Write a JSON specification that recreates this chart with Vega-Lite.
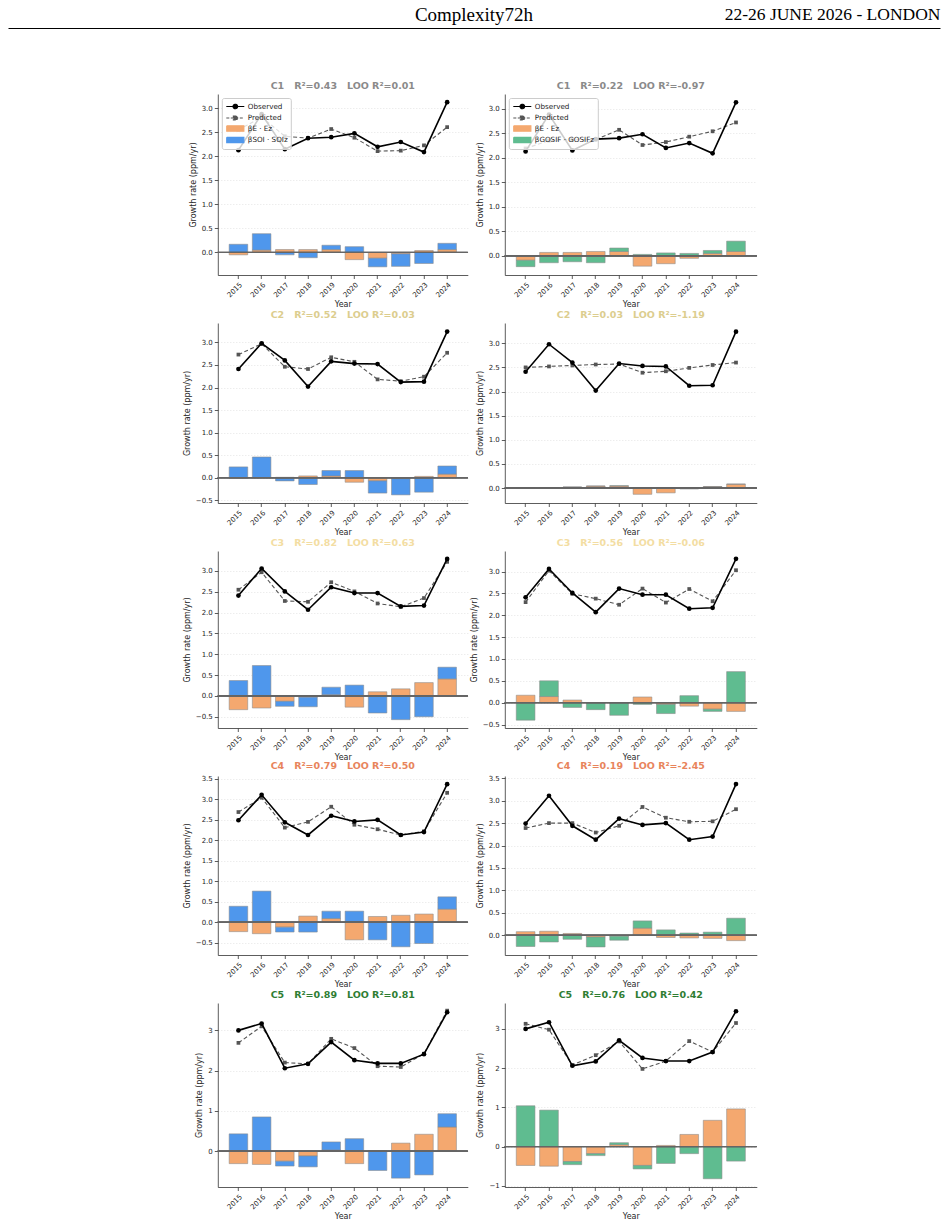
{
"$schema": "https://vega.github.io/schema/vega-lite/v6.json",
"padding": {"left": 8, "right": 8, "top": 5, "bottom": 2},
"background": "white",
"config": {
  "font": "DejaVu Sans",
  "view": {"stroke": null},
  "axis": {"labelFont": "DejaVu Sans", "labelFontSize": 7, "labelColor": "#262626", "titleFont": "DejaVu Sans", "titleFontSize": 8, "titleFontWeight": "normal", "titleColor": "#262626", "domainColor": "#333333", "domainWidth": 0.8, "tickColor": "#333333", "tickWidth": 0.8, "tickSize": 3.5, "labelPadding": 2, "labelOverlap": false},
  "axisX": {"grid": false, "labelAngle": -45, "titlePadding": 2},
  "axisY": {"grid": true, "gridColor": "#d4d4d4", "gridDash": [1, 2], "gridWidth": 0.6, "titlePadding": 4},
  "title": {"font": "DejaVu Sans", "fontSize": 9.5, "fontWeight": "bold", "offset": 4, "anchor": "middle", "frame": "group"}
},
"datasets": {
"d": [
{"p":"1L","year":"2015","obs":2.13,"pred":2.55,"E":-0.05,"X":0.17},
{"p":"1L","year":"2016","obs":2.88,"pred":2.82,"E":0.05,"X":0.34},
{"p":"1L","year":"2017","obs":2.15,"pred":2.42,"E":0.06,"X":-0.05},
{"p":"1L","year":"2018","obs":2.38,"pred":2.38,"E":0.06,"X":-0.11},
{"p":"1L","year":"2019","obs":2.40,"pred":2.57,"E":0.06,"X":0.09},
{"p":"1L","year":"2020","obs":2.48,"pred":2.39,"E":-0.15,"X":0.12},
{"p":"1L","year":"2021","obs":2.20,"pred":2.11,"E":-0.12,"X":-0.18},
{"p":"1L","year":"2022","obs":2.30,"pred":2.12,"E":-0.03,"X":-0.26},
{"p":"1L","year":"2023","obs":2.09,"pred":2.23,"E":0.04,"X":-0.23},
{"p":"1L","year":"2024","obs":3.13,"pred":2.61,"E":0.06,"X":0.13},
{"p":"1R","year":"2015","obs":2.13,"pred":2.19,"E":-0.09,"X":-0.13},
{"p":"1R","year":"2016","obs":2.88,"pred":2.35,"E":0.07,"X":-0.14},
{"p":"1R","year":"2017","obs":2.15,"pred":2.37,"E":0.07,"X":-0.12},
{"p":"1R","year":"2018","obs":2.38,"pred":2.37,"E":0.09,"X":-0.14},
{"p":"1R","year":"2019","obs":2.40,"pred":2.57,"E":0.09,"X":0.07},
{"p":"1R","year":"2020","obs":2.48,"pred":2.26,"E":-0.21,"X":0.03},
{"p":"1R","year":"2021","obs":2.20,"pred":2.32,"E":-0.16,"X":0.06},
{"p":"1R","year":"2022","obs":2.30,"pred":2.43,"E":-0.05,"X":0.05},
{"p":"1R","year":"2023","obs":2.09,"pred":2.54,"E":0.05,"X":0.06},
{"p":"1R","year":"2024","obs":3.13,"pred":2.72,"E":0.09,"X":0.21},
{"p":"2L","year":"2015","obs":2.41,"pred":2.73,"E":-0.01,"X":0.24},
{"p":"2L","year":"2016","obs":2.98,"pred":2.97,"E":0.00,"X":0.46},
{"p":"2L","year":"2017","obs":2.60,"pred":2.46,"E":0.01,"X":-0.07},
{"p":"2L","year":"2018","obs":2.02,"pred":2.41,"E":0.04,"X":-0.15},
{"p":"2L","year":"2019","obs":2.58,"pred":2.67,"E":0.04,"X":0.12},
{"p":"2L","year":"2020","obs":2.53,"pred":2.57,"E":-0.10,"X":0.16},
{"p":"2L","year":"2021","obs":2.52,"pred":2.18,"E":-0.07,"X":-0.27},
{"p":"2L","year":"2022","obs":2.12,"pred":2.14,"E":-0.02,"X":-0.36},
{"p":"2L","year":"2023","obs":2.13,"pred":2.24,"E":0.03,"X":-0.32},
{"p":"2L","year":"2024","obs":3.24,"pred":2.77,"E":0.08,"X":0.18},
{"p":"2R","year":"2015","obs":2.41,"pred":2.50,"E":-0.01,"X":0.00},
{"p":"2R","year":"2016","obs":2.98,"pred":2.52,"E":0.00,"X":0.00},
{"p":"2R","year":"2017","obs":2.60,"pred":2.54,"E":0.02,"X":0.00},
{"p":"2R","year":"2018","obs":2.02,"pred":2.56,"E":0.04,"X":0.00},
{"p":"2R","year":"2019","obs":2.58,"pred":2.57,"E":0.04,"X":0.01},
{"p":"2R","year":"2020","obs":2.53,"pred":2.39,"E":-0.13,"X":0.00},
{"p":"2R","year":"2021","obs":2.52,"pred":2.42,"E":-0.10,"X":0.00},
{"p":"2R","year":"2022","obs":2.12,"pred":2.49,"E":-0.02,"X":0.00},
{"p":"2R","year":"2023","obs":2.13,"pred":2.55,"E":0.03,"X":0.00},
{"p":"2R","year":"2024","obs":3.24,"pred":2.60,"E":0.08,"X":0.00},
{"p":"3L","year":"2015","obs":2.41,"pred":2.55,"E":-0.33,"X":0.37},
{"p":"3L","year":"2016","obs":3.06,"pred":2.97,"E":-0.29,"X":0.73},
{"p":"3L","year":"2017","obs":2.51,"pred":2.28,"E":-0.13,"X":-0.12},
{"p":"3L","year":"2018","obs":2.07,"pred":2.26,"E":-0.03,"X":-0.23},
{"p":"3L","year":"2019","obs":2.61,"pred":2.73,"E":0.03,"X":0.18},
{"p":"3L","year":"2020","obs":2.47,"pred":2.51,"E":-0.27,"X":0.26},
{"p":"3L","year":"2021","obs":2.47,"pred":2.22,"E":0.10,"X":-0.41},
{"p":"3L","year":"2022","obs":2.15,"pred":2.14,"E":0.17,"X":-0.57},
{"p":"3L","year":"2023","obs":2.17,"pred":2.35,"E":0.32,"X":-0.50},
{"p":"3L","year":"2024","obs":3.29,"pred":3.22,"E":0.41,"X":0.28},
{"p":"3R","year":"2015","obs":2.41,"pred":2.30,"E":0.17,"X":-0.40},
{"p":"3R","year":"2016","obs":3.06,"pred":3.02,"E":0.14,"X":0.36},
{"p":"3R","year":"2017","obs":2.51,"pred":2.49,"E":0.06,"X":-0.11},
{"p":"3R","year":"2018","obs":2.07,"pred":2.38,"E":-0.01,"X":-0.15},
{"p":"3R","year":"2019","obs":2.61,"pred":2.24,"E":-0.01,"X":-0.28},
{"p":"3R","year":"2020","obs":2.47,"pred":2.61,"E":0.13,"X":-0.04},
{"p":"3R","year":"2021","obs":2.47,"pred":2.29,"E":-0.04,"X":-0.21},
{"p":"3R","year":"2022","obs":2.15,"pred":2.60,"E":-0.08,"X":0.16},
{"p":"3R","year":"2023","obs":2.17,"pred":2.32,"E":-0.15,"X":-0.05},
{"p":"3R","year":"2024","obs":3.29,"pred":3.03,"E":-0.20,"X":0.71},
{"p":"4L","year":"2015","obs":2.49,"pred":2.69,"E":-0.23,"X":0.39},
{"p":"4L","year":"2016","obs":3.11,"pred":3.04,"E":-0.28,"X":0.76},
{"p":"4L","year":"2017","obs":2.44,"pred":2.31,"E":-0.12,"X":-0.12},
{"p":"4L","year":"2018","obs":2.13,"pred":2.45,"E":0.15,"X":-0.24},
{"p":"4L","year":"2019","obs":2.60,"pred":2.82,"E":0.09,"X":0.18},
{"p":"4L","year":"2020","obs":2.46,"pred":2.38,"E":-0.43,"X":0.27},
{"p":"4L","year":"2021","obs":2.50,"pred":2.27,"E":0.14,"X":-0.43},
{"p":"4L","year":"2022","obs":2.13,"pred":2.13,"E":0.17,"X":-0.60},
{"p":"4L","year":"2023","obs":2.20,"pred":2.22,"E":0.20,"X":-0.52},
{"p":"4L","year":"2024","obs":3.37,"pred":3.16,"E":0.32,"X":0.30},
{"p":"4R","year":"2015","obs":2.49,"pred":2.39,"E":0.08,"X":-0.25},
{"p":"4R","year":"2016","obs":3.11,"pred":2.50,"E":0.09,"X":-0.15},
{"p":"4R","year":"2017","obs":2.44,"pred":2.50,"E":0.04,"X":-0.09},
{"p":"4R","year":"2018","obs":2.13,"pred":2.29,"E":-0.04,"X":-0.22},
{"p":"4R","year":"2019","obs":2.60,"pred":2.44,"E":-0.02,"X":-0.09},
{"p":"4R","year":"2020","obs":2.46,"pred":2.86,"E":0.16,"X":0.16},
{"p":"4R","year":"2021","obs":2.50,"pred":2.62,"E":-0.05,"X":0.12},
{"p":"4R","year":"2022","obs":2.13,"pred":2.53,"E":-0.06,"X":0.05},
{"p":"4R","year":"2023","obs":2.20,"pred":2.54,"E":-0.07,"X":0.07},
{"p":"4R","year":"2024","obs":3.37,"pred":2.81,"E":-0.12,"X":0.38},
{"p":"5L","year":"2015","obs":3.00,"pred":2.69,"E":-0.31,"X":0.43},
{"p":"5L","year":"2016","obs":3.17,"pred":3.10,"E":-0.33,"X":0.85},
{"p":"5L","year":"2017","obs":2.06,"pred":2.20,"E":-0.25,"X":-0.12},
{"p":"5L","year":"2018","obs":2.17,"pred":2.17,"E":-0.12,"X":-0.27},
{"p":"5L","year":"2019","obs":2.71,"pred":2.79,"E":0.03,"X":0.20},
{"p":"5L","year":"2020","obs":2.26,"pred":2.56,"E":-0.31,"X":0.31},
{"p":"5L","year":"2021","obs":2.18,"pred":2.11,"E":0.01,"X":-0.48},
{"p":"5L","year":"2022","obs":2.18,"pred":2.09,"E":0.20,"X":-0.67},
{"p":"5L","year":"2023","obs":2.41,"pred":2.42,"E":0.42,"X":-0.59},
{"p":"5L","year":"2024","obs":3.45,"pred":3.49,"E":0.60,"X":0.33},
{"p":"5R","year":"2015","obs":3.00,"pred":3.13,"E":-0.48,"X":1.04},
{"p":"5R","year":"2016","obs":3.17,"pred":2.98,"E":-0.50,"X":0.93},
{"p":"5R","year":"2017","obs":2.06,"pred":2.08,"E":-0.38,"X":-0.08},
{"p":"5R","year":"2018","obs":2.17,"pred":2.33,"E":-0.18,"X":-0.05},
{"p":"5R","year":"2019","obs":2.71,"pred":2.68,"E":0.05,"X":0.05},
{"p":"5R","year":"2020","obs":2.26,"pred":1.98,"E":-0.48,"X":-0.09},
{"p":"5R","year":"2021","obs":2.18,"pred":2.18,"E":0.03,"X":-0.43},
{"p":"5R","year":"2022","obs":2.18,"pred":2.69,"E":0.31,"X":-0.18},
{"p":"5R","year":"2023","obs":2.41,"pred":2.41,"E":0.67,"X":-0.82},
{"p":"5R","year":"2024","obs":3.45,"pred":3.15,"E":0.96,"X":-0.37}
]
},
"vconcat": [
{
  "width": 932, "height": 1,
  "data": {"values": [{"h": 0.5}]},
  "mark": {"type": "point", "opacity": 0, "size": 0},
  "encoding": {
    "x": {"field": "h", "type": "quantitative", "scale": {"domain": [0, 1]}, "axis": {"orient": "top", "title": "22-26 JUNE 2026 - LONDON", "titleAnchor": "end", "titleFont": "Liberation Serif", "titleFontSize": 17.5, "titleFontWeight": "normal", "titleColor": "#000000", "titlePadding": 5, "labels": false, "ticks": false, "grid": false, "domainColor": "#000000", "domainWidth": 1.2}}
  },
  "title": {"text": "Complexity72h", "anchor": "middle", "font": "Liberation Serif", "fontSize": 19, "fontWeight": "normal", "color": "#000000", "dy": 20, "offset": 0}
},
{
 "bounds": "flush",
 "spacing": 0,
 "resolve": {"scale": {"fill": "independent", "stroke": "independent", "shape": "independent", "strokeDash": "independent"}},
 "hconcat": [
 {
  "width": 27, "height": 1,
  "data": {"values": [{"h": 0}]},
  "mark": {"type": "point", "opacity": 0, "size": 0}
 },
 {
  "data": {"name": "d"},
  "columns": 2,
  "bounds": "flush",
  "spacing": {"row": 48, "column": 37},
  "resolve": {"scale": {"fill": "independent", "stroke": "independent", "shape": "independent", "strokeDash": "independent"}},
  "concat": [
  {
    "width": 250, "height": 181,
    "title": {"text": "C1\u00a0\u00a0\u00a0R²=0.43\u00a0\u00a0\u00a0LOO R²=0.01", "color": "#8a8a8a"},
    "transform": [{"filter": "datum.p === '1L'"}],
    "layer": [
      {"transform": [{"fold": ["E", "X"], "as": ["s", "v"]}],
       "mark": {"type": "bar", "stroke": "#8a8a8a", "strokeWidth": 0.7, "strokeOpacity": 0.8, "opacity": 1},
       "encoding": {
         "x": {"field": "year", "type": "ordinal", "title": "Year", "scale": {"paddingInner": 0.2, "paddingOuter": 0.49}},
         "y": {"field": "v", "type": "quantitative", "stack": "zero", "title": "Growth rate (ppm/yr)", "scale": {"domain": [-0.47, 3.30], "nice": false, "zero": false}, "axis": {"values": [0, 0.5, 1, 1.5, 2, 2.5, 3], "tickCount": 30, "labelOverlap": false, "labelExpr": "replace(format(datum.value, '.1f'), '-', '−')"}},
         "fill": {"field": "s", "type": "nominal", "scale": {"domain": ["obs", "pred", "E", "X"], "range": ["#000000", "#555555", "#F4A86F", "#4F97EC"]},
           "legend": {"title": null, "orient": "top-left", "offset": 4, "padding": 3, "rowPadding": 0.5, "labelFontSize": 7.2, "labelFont": "DejaVu Sans", "labelColor": "#222222", "symbolSize": 81, "symbolStrokeWidth": 1.2, "symbolOffset": 5, "labelOffset": 7, "fillColor": "rgba(255,255,255,0.8)", "strokeColor": "#cccccc", "cornerRadius": 2, "labelExpr": "datum.value == 'obs' ? 'Observed' : datum.value == 'pred' ? 'Predicted' : datum.value == 'E' ? 'βE · Ez' : 'βSOI · SOIz'"}},
         "order": {"field": "s", "type": "ordinal", "sort": "ascending"}
       }},
      {"mark": {"type": "rule", "color": "#666666", "strokeWidth": 0.8}, "encoding": {"y": {"datum": 0}}},
      {"mark": {"type": "line", "color": "#555555", "strokeWidth": 1.1, "strokeDash": [4, 2.5]},
       "encoding": {"x": {"field": "year", "type": "ordinal", "title": "Year", "scale": {"paddingInner": 0.2, "paddingOuter": 0.49}}, "y": {"field": "pred", "type": "quantitative", "title": "Growth rate (ppm/yr)", "scale": {"domain": [-0.47, 3.30], "nice": false, "zero": false}}}},
      {"mark": {"type": "point", "shape": "square", "filled": true, "color": "#555555", "size": 14, "opacity": 1},
       "encoding": {"x": {"field": "year", "type": "ordinal", "title": "Year", "scale": {"paddingInner": 0.2, "paddingOuter": 0.49}}, "y": {"field": "pred", "type": "quantitative", "title": "Growth rate (ppm/yr)", "scale": {"domain": [-0.47, 3.30], "nice": false, "zero": false}}}},
      {"mark": {"type": "line", "color": "#000000", "strokeWidth": 1.6},
       "encoding": {"x": {"field": "year", "type": "ordinal", "title": "Year", "scale": {"paddingInner": 0.2, "paddingOuter": 0.49}}, "y": {"field": "obs", "type": "quantitative", "title": "Growth rate (ppm/yr)", "scale": {"domain": [-0.47, 3.30], "nice": false, "zero": false}}}},
      {"mark": {"type": "point", "shape": "circle", "filled": true, "color": "#000000", "size": 22, "opacity": 1},
       "encoding": {"x": {"field": "year", "type": "ordinal", "title": "Year", "scale": {"paddingInner": 0.2, "paddingOuter": 0.49}}, "y": {"field": "obs", "type": "quantitative", "title": "Growth rate (ppm/yr)", "scale": {"domain": [-0.47, 3.30], "nice": false, "zero": false}}}},
      {"transform": [{"filter": "false"}],
       "mark": {"type": "point", "filled": true, "opacity": 1},
       "encoding": {
         "fill": {"field": "s", "type": "nominal", "scale": {"domain": ["obs", "pred", "E", "X"], "range": ["#000000", "#555555", "#F4A86F", "#4F97EC"]},
           "legend": {"title": null, "orient": "top-left", "offset": 4, "padding": 3, "rowPadding": 0.5, "labelFontSize": 7.2, "labelFont": "DejaVu Sans", "labelColor": "#222222", "symbolSize": 81, "symbolStrokeWidth": 1.2, "symbolOffset": 5, "labelOffset": 7, "fillColor": "rgba(255,255,255,0.8)", "strokeColor": "#cccccc", "cornerRadius": 2, "labelExpr": "datum.value == 'obs' ? 'Observed' : datum.value == 'pred' ? 'Predicted' : datum.value == 'E' ? 'βE · Ez' : 'βSOI · SOIz'"}},
         "stroke": {"field": "s", "type": "nominal", "scale": {"domain": ["obs", "pred", "E", "X"], "range": ["#000000", "#555555", "#F4A86F", "#4F97EC"]},
           "legend": {"title": null, "orient": "top-left", "offset": 4, "padding": 3, "rowPadding": 0.5, "labelFontSize": 7.2, "labelFont": "DejaVu Sans", "labelColor": "#222222", "symbolSize": 81, "symbolStrokeWidth": 1.2, "symbolOffset": 5, "labelOffset": 7, "fillColor": "rgba(255,255,255,0.8)", "strokeColor": "#cccccc", "cornerRadius": 2, "labelExpr": "datum.value == 'obs' ? 'Observed' : datum.value == 'pred' ? 'Predicted' : datum.value == 'E' ? 'βE · Ez' : 'βSOI · SOIz'"}},
         "shape": {"field": "s", "type": "nominal", "scale": {"domain": ["obs", "pred", "E", "X"], "range": ["M-2,0L2,0M-0.5,0A0.5,0.5,0,1,1,0.5,0A0.5,0.5,0,1,1,-0.5,0Z", "M-2,0L2,0M-0.42,-0.42L0.42,-0.42L0.42,0.42L-0.42,0.42Z", "M-1.9,-0.6L1.9,-0.6L1.9,0.6L-1.9,0.6Z", "M-1.9,-0.6L1.9,-0.6L1.9,0.6L-1.9,0.6Z"]},
           "legend": {"title": null, "orient": "top-left", "offset": 4, "padding": 3, "rowPadding": 0.5, "labelFontSize": 7.2, "labelFont": "DejaVu Sans", "labelColor": "#222222", "symbolSize": 81, "symbolStrokeWidth": 1.2, "symbolOffset": 5, "labelOffset": 7, "fillColor": "rgba(255,255,255,0.8)", "strokeColor": "#cccccc", "cornerRadius": 2, "labelExpr": "datum.value == 'obs' ? 'Observed' : datum.value == 'pred' ? 'Predicted' : datum.value == 'E' ? 'βE · Ez' : 'βSOI · SOIz'"}},
         "strokeDash": {"field": "s", "type": "nominal", "scale": {"domain": ["obs", "pred", "E", "X"], "range": [[1, 0], [3, 1.5], [1, 0], [1, 0]]},
           "legend": {"title": null, "orient": "top-left", "offset": 4, "padding": 3, "rowPadding": 0.5, "labelFontSize": 7.2, "labelFont": "DejaVu Sans", "labelColor": "#222222", "symbolSize": 81, "symbolStrokeWidth": 1.2, "symbolOffset": 5, "labelOffset": 7, "fillColor": "rgba(255,255,255,0.8)", "strokeColor": "#cccccc", "cornerRadius": 2, "labelExpr": "datum.value == 'obs' ? 'Observed' : datum.value == 'pred' ? 'Predicted' : datum.value == 'E' ? 'βE · Ez' : 'βSOI · SOIz'"}}
       }}
    ]
  },
  {
    "width": 252, "height": 181,
    "title": {"text": "C1\u00a0\u00a0\u00a0R²=0.22\u00a0\u00a0\u00a0LOO R²=-0.97", "color": "#8a8a8a"},
    "transform": [{"filter": "datum.p === '1R'"}],
    "layer": [
      {"transform": [{"fold": ["E", "X"], "as": ["s", "v"]}],
       "mark": {"type": "bar", "stroke": "#8a8a8a", "strokeWidth": 0.7, "strokeOpacity": 0.8, "opacity": 1},
       "encoding": {
         "x": {"field": "year", "type": "ordinal", "title": "Year", "scale": {"paddingInner": 0.2, "paddingOuter": 0.49}},
         "y": {"field": "v", "type": "quantitative", "stack": "zero", "title": "Growth rate (ppm/yr)", "scale": {"domain": [-0.39, 3.30], "nice": false, "zero": false}, "axis": {"values": [0, 0.5, 1, 1.5, 2, 2.5, 3], "tickCount": 30, "labelOverlap": false, "labelExpr": "replace(format(datum.value, '.1f'), '-', '−')"}},
         "fill": {"field": "s", "type": "nominal", "scale": {"domain": ["obs", "pred", "E", "X"], "range": ["#000000", "#555555", "#F4A86F", "#5FBC90"]},
           "legend": {"title": null, "orient": "top-left", "offset": 4, "padding": 3, "rowPadding": 0.5, "labelFontSize": 7.2, "labelFont": "DejaVu Sans", "labelColor": "#222222", "symbolSize": 81, "symbolStrokeWidth": 1.2, "symbolOffset": 5, "labelOffset": 7, "fillColor": "rgba(255,255,255,0.8)", "strokeColor": "#cccccc", "cornerRadius": 2, "labelExpr": "datum.value == 'obs' ? 'Observed' : datum.value == 'pred' ? 'Predicted' : datum.value == 'E' ? 'βE · Ez' : 'βGOSIF · GOSIFz'"}},
         "order": {"field": "s", "type": "ordinal", "sort": "ascending"}
       }},
      {"mark": {"type": "rule", "color": "#666666", "strokeWidth": 0.8}, "encoding": {"y": {"datum": 0}}},
      {"mark": {"type": "line", "color": "#555555", "strokeWidth": 1.1, "strokeDash": [4, 2.5]},
       "encoding": {"x": {"field": "year", "type": "ordinal", "title": "Year", "scale": {"paddingInner": 0.2, "paddingOuter": 0.49}}, "y": {"field": "pred", "type": "quantitative", "title": "Growth rate (ppm/yr)", "scale": {"domain": [-0.39, 3.30], "nice": false, "zero": false}}}},
      {"mark": {"type": "point", "shape": "square", "filled": true, "color": "#555555", "size": 14, "opacity": 1},
       "encoding": {"x": {"field": "year", "type": "ordinal", "title": "Year", "scale": {"paddingInner": 0.2, "paddingOuter": 0.49}}, "y": {"field": "pred", "type": "quantitative", "title": "Growth rate (ppm/yr)", "scale": {"domain": [-0.39, 3.30], "nice": false, "zero": false}}}},
      {"mark": {"type": "line", "color": "#000000", "strokeWidth": 1.6},
       "encoding": {"x": {"field": "year", "type": "ordinal", "title": "Year", "scale": {"paddingInner": 0.2, "paddingOuter": 0.49}}, "y": {"field": "obs", "type": "quantitative", "title": "Growth rate (ppm/yr)", "scale": {"domain": [-0.39, 3.30], "nice": false, "zero": false}}}},
      {"mark": {"type": "point", "shape": "circle", "filled": true, "color": "#000000", "size": 22, "opacity": 1},
       "encoding": {"x": {"field": "year", "type": "ordinal", "title": "Year", "scale": {"paddingInner": 0.2, "paddingOuter": 0.49}}, "y": {"field": "obs", "type": "quantitative", "title": "Growth rate (ppm/yr)", "scale": {"domain": [-0.39, 3.30], "nice": false, "zero": false}}}},
      {"transform": [{"filter": "false"}],
       "mark": {"type": "point", "filled": true, "opacity": 1},
       "encoding": {
         "fill": {"field": "s", "type": "nominal", "scale": {"domain": ["obs", "pred", "E", "X"], "range": ["#000000", "#555555", "#F4A86F", "#5FBC90"]},
           "legend": {"title": null, "orient": "top-left", "offset": 4, "padding": 3, "rowPadding": 0.5, "labelFontSize": 7.2, "labelFont": "DejaVu Sans", "labelColor": "#222222", "symbolSize": 81, "symbolStrokeWidth": 1.2, "symbolOffset": 5, "labelOffset": 7, "fillColor": "rgba(255,255,255,0.8)", "strokeColor": "#cccccc", "cornerRadius": 2, "labelExpr": "datum.value == 'obs' ? 'Observed' : datum.value == 'pred' ? 'Predicted' : datum.value == 'E' ? 'βE · Ez' : 'βGOSIF · GOSIFz'"}},
         "stroke": {"field": "s", "type": "nominal", "scale": {"domain": ["obs", "pred", "E", "X"], "range": ["#000000", "#555555", "#F4A86F", "#5FBC90"]},
           "legend": {"title": null, "orient": "top-left", "offset": 4, "padding": 3, "rowPadding": 0.5, "labelFontSize": 7.2, "labelFont": "DejaVu Sans", "labelColor": "#222222", "symbolSize": 81, "symbolStrokeWidth": 1.2, "symbolOffset": 5, "labelOffset": 7, "fillColor": "rgba(255,255,255,0.8)", "strokeColor": "#cccccc", "cornerRadius": 2, "labelExpr": "datum.value == 'obs' ? 'Observed' : datum.value == 'pred' ? 'Predicted' : datum.value == 'E' ? 'βE · Ez' : 'βGOSIF · GOSIFz'"}},
         "shape": {"field": "s", "type": "nominal", "scale": {"domain": ["obs", "pred", "E", "X"], "range": ["M-2,0L2,0M-0.5,0A0.5,0.5,0,1,1,0.5,0A0.5,0.5,0,1,1,-0.5,0Z", "M-2,0L2,0M-0.42,-0.42L0.42,-0.42L0.42,0.42L-0.42,0.42Z", "M-1.9,-0.6L1.9,-0.6L1.9,0.6L-1.9,0.6Z", "M-1.9,-0.6L1.9,-0.6L1.9,0.6L-1.9,0.6Z"]},
           "legend": {"title": null, "orient": "top-left", "offset": 4, "padding": 3, "rowPadding": 0.5, "labelFontSize": 7.2, "labelFont": "DejaVu Sans", "labelColor": "#222222", "symbolSize": 81, "symbolStrokeWidth": 1.2, "symbolOffset": 5, "labelOffset": 7, "fillColor": "rgba(255,255,255,0.8)", "strokeColor": "#cccccc", "cornerRadius": 2, "labelExpr": "datum.value == 'obs' ? 'Observed' : datum.value == 'pred' ? 'Predicted' : datum.value == 'E' ? 'βE · Ez' : 'βGOSIF · GOSIFz'"}},
         "strokeDash": {"field": "s", "type": "nominal", "scale": {"domain": ["obs", "pred", "E", "X"], "range": [[1, 0], [3, 1.5], [1, 0], [1, 0]]},
           "legend": {"title": null, "orient": "top-left", "offset": 4, "padding": 3, "rowPadding": 0.5, "labelFontSize": 7.2, "labelFont": "DejaVu Sans", "labelColor": "#222222", "symbolSize": 81, "symbolStrokeWidth": 1.2, "symbolOffset": 5, "labelOffset": 7, "fillColor": "rgba(255,255,255,0.8)", "strokeColor": "#cccccc", "cornerRadius": 2, "labelExpr": "datum.value == 'obs' ? 'Observed' : datum.value == 'pred' ? 'Predicted' : datum.value == 'E' ? 'βE · Ez' : 'βGOSIF · GOSIFz'"}}
       }}
    ]
  },
  {
    "width": 250, "height": 180,
    "title": {"text": "C2\u00a0\u00a0\u00a0R²=0.52\u00a0\u00a0\u00a0LOO R²=0.03", "color": "#DCCD8E"},
    "transform": [{"filter": "datum.p === '2L'"}],
    "layer": [
      {"transform": [{"fold": ["E", "X"], "as": ["s", "v"]}],
       "mark": {"type": "bar", "stroke": "#8a8a8a", "strokeWidth": 0.7, "strokeOpacity": 0.8, "opacity": 1},
       "encoding": {
         "x": {"field": "year", "type": "ordinal", "title": "Year", "scale": {"paddingInner": 0.2, "paddingOuter": 0.49}},
         "y": {"field": "v", "type": "quantitative", "stack": "zero", "title": "Growth rate (ppm/yr)", "scale": {"domain": [-0.56, 3.43], "nice": false, "zero": false}, "axis": {"values": [-0.5, 0, 0.5, 1, 1.5, 2, 2.5, 3], "tickCount": 30, "labelOverlap": false, "labelExpr": "replace(format(datum.value, '.1f'), '-', '−')"}},
         "fill": {"field": "s", "type": "nominal", "scale": {"domain": ["obs", "pred", "E", "X"], "range": ["#000000", "#555555", "#F4A86F", "#4F97EC"]}, "legend": null},
         "order": {"field": "s", "type": "ordinal", "sort": "ascending"}
       }},
      {"mark": {"type": "rule", "color": "#666666", "strokeWidth": 0.8}, "encoding": {"y": {"datum": 0}}},
      {"mark": {"type": "line", "color": "#555555", "strokeWidth": 1.1, "strokeDash": [4, 2.5]},
       "encoding": {"x": {"field": "year", "type": "ordinal", "title": "Year", "scale": {"paddingInner": 0.2, "paddingOuter": 0.49}}, "y": {"field": "pred", "type": "quantitative", "title": "Growth rate (ppm/yr)", "scale": {"domain": [-0.56, 3.43], "nice": false, "zero": false}}}},
      {"mark": {"type": "point", "shape": "square", "filled": true, "color": "#555555", "size": 14, "opacity": 1},
       "encoding": {"x": {"field": "year", "type": "ordinal", "title": "Year", "scale": {"paddingInner": 0.2, "paddingOuter": 0.49}}, "y": {"field": "pred", "type": "quantitative", "title": "Growth rate (ppm/yr)", "scale": {"domain": [-0.56, 3.43], "nice": false, "zero": false}}}},
      {"mark": {"type": "line", "color": "#000000", "strokeWidth": 1.6},
       "encoding": {"x": {"field": "year", "type": "ordinal", "title": "Year", "scale": {"paddingInner": 0.2, "paddingOuter": 0.49}}, "y": {"field": "obs", "type": "quantitative", "title": "Growth rate (ppm/yr)", "scale": {"domain": [-0.56, 3.43], "nice": false, "zero": false}}}},
      {"mark": {"type": "point", "shape": "circle", "filled": true, "color": "#000000", "size": 22, "opacity": 1},
       "encoding": {"x": {"field": "year", "type": "ordinal", "title": "Year", "scale": {"paddingInner": 0.2, "paddingOuter": 0.49}}, "y": {"field": "obs", "type": "quantitative", "title": "Growth rate (ppm/yr)", "scale": {"domain": [-0.56, 3.43], "nice": false, "zero": false}}}}
    ]
  },
  {
    "width": 252, "height": 180,
    "title": {"text": "C2\u00a0\u00a0\u00a0R²=0.03\u00a0\u00a0\u00a0LOO R²=-1.19", "color": "#DCCD8E"},
    "transform": [{"filter": "datum.p === '2R'"}],
    "layer": [
      {"transform": [{"fold": ["E", "X"], "as": ["s", "v"]}],
       "mark": {"type": "bar", "stroke": "#8a8a8a", "strokeWidth": 0.7, "strokeOpacity": 0.8, "opacity": 1},
       "encoding": {
         "x": {"field": "year", "type": "ordinal", "title": "Year", "scale": {"paddingInner": 0.2, "paddingOuter": 0.49}},
         "y": {"field": "v", "type": "quantitative", "stack": "zero", "title": "Growth rate (ppm/yr)", "scale": {"domain": [-0.31, 3.42], "nice": false, "zero": false}, "axis": {"values": [0, 0.5, 1, 1.5, 2, 2.5, 3], "tickCount": 30, "labelOverlap": false, "labelExpr": "replace(format(datum.value, '.1f'), '-', '−')"}},
         "fill": {"field": "s", "type": "nominal", "scale": {"domain": ["obs", "pred", "E", "X"], "range": ["#000000", "#555555", "#F4A86F", "#5FBC90"]}, "legend": null},
         "order": {"field": "s", "type": "ordinal", "sort": "ascending"}
       }},
      {"mark": {"type": "rule", "color": "#666666", "strokeWidth": 0.8}, "encoding": {"y": {"datum": 0}}},
      {"mark": {"type": "line", "color": "#555555", "strokeWidth": 1.1, "strokeDash": [4, 2.5]},
       "encoding": {"x": {"field": "year", "type": "ordinal", "title": "Year", "scale": {"paddingInner": 0.2, "paddingOuter": 0.49}}, "y": {"field": "pred", "type": "quantitative", "title": "Growth rate (ppm/yr)", "scale": {"domain": [-0.31, 3.42], "nice": false, "zero": false}}}},
      {"mark": {"type": "point", "shape": "square", "filled": true, "color": "#555555", "size": 14, "opacity": 1},
       "encoding": {"x": {"field": "year", "type": "ordinal", "title": "Year", "scale": {"paddingInner": 0.2, "paddingOuter": 0.49}}, "y": {"field": "pred", "type": "quantitative", "title": "Growth rate (ppm/yr)", "scale": {"domain": [-0.31, 3.42], "nice": false, "zero": false}}}},
      {"mark": {"type": "line", "color": "#000000", "strokeWidth": 1.6},
       "encoding": {"x": {"field": "year", "type": "ordinal", "title": "Year", "scale": {"paddingInner": 0.2, "paddingOuter": 0.49}}, "y": {"field": "obs", "type": "quantitative", "title": "Growth rate (ppm/yr)", "scale": {"domain": [-0.31, 3.42], "nice": false, "zero": false}}}},
      {"mark": {"type": "point", "shape": "circle", "filled": true, "color": "#000000", "size": 22, "opacity": 1},
       "encoding": {"x": {"field": "year", "type": "ordinal", "title": "Year", "scale": {"paddingInner": 0.2, "paddingOuter": 0.49}}, "y": {"field": "obs", "type": "quantitative", "title": "Growth rate (ppm/yr)", "scale": {"domain": [-0.31, 3.42], "nice": false, "zero": false}}}}
    ]
  },
  {
    "width": 250, "height": 177,
    "title": {"text": "C3\u00a0\u00a0\u00a0R²=0.82\u00a0\u00a0\u00a0LOO R²=0.63", "color": "#F3DDA2"},
    "transform": [{"filter": "datum.p === '3L'"}],
    "layer": [
      {"transform": [{"fold": ["E", "X"], "as": ["s", "v"]}],
       "mark": {"type": "bar", "stroke": "#8a8a8a", "strokeWidth": 0.7, "strokeOpacity": 0.8, "opacity": 1},
       "encoding": {
         "x": {"field": "year", "type": "ordinal", "title": "Year", "scale": {"paddingInner": 0.2, "paddingOuter": 0.49}},
         "y": {"field": "v", "type": "quantitative", "stack": "zero", "title": "Growth rate (ppm/yr)", "scale": {"domain": [-0.77, 3.48], "nice": false, "zero": false}, "axis": {"values": [-0.5, 0, 0.5, 1, 1.5, 2, 2.5, 3], "tickCount": 30, "labelOverlap": false, "labelExpr": "replace(format(datum.value, '.1f'), '-', '−')"}},
         "fill": {"field": "s", "type": "nominal", "scale": {"domain": ["obs", "pred", "E", "X"], "range": ["#000000", "#555555", "#F4A86F", "#4F97EC"]}, "legend": null},
         "order": {"field": "s", "type": "ordinal", "sort": "ascending"}
       }},
      {"mark": {"type": "rule", "color": "#666666", "strokeWidth": 0.8}, "encoding": {"y": {"datum": 0}}},
      {"mark": {"type": "line", "color": "#555555", "strokeWidth": 1.1, "strokeDash": [4, 2.5]},
       "encoding": {"x": {"field": "year", "type": "ordinal", "title": "Year", "scale": {"paddingInner": 0.2, "paddingOuter": 0.49}}, "y": {"field": "pred", "type": "quantitative", "title": "Growth rate (ppm/yr)", "scale": {"domain": [-0.77, 3.48], "nice": false, "zero": false}}}},
      {"mark": {"type": "point", "shape": "square", "filled": true, "color": "#555555", "size": 14, "opacity": 1},
       "encoding": {"x": {"field": "year", "type": "ordinal", "title": "Year", "scale": {"paddingInner": 0.2, "paddingOuter": 0.49}}, "y": {"field": "pred", "type": "quantitative", "title": "Growth rate (ppm/yr)", "scale": {"domain": [-0.77, 3.48], "nice": false, "zero": false}}}},
      {"mark": {"type": "line", "color": "#000000", "strokeWidth": 1.6},
       "encoding": {"x": {"field": "year", "type": "ordinal", "title": "Year", "scale": {"paddingInner": 0.2, "paddingOuter": 0.49}}, "y": {"field": "obs", "type": "quantitative", "title": "Growth rate (ppm/yr)", "scale": {"domain": [-0.77, 3.48], "nice": false, "zero": false}}}},
      {"mark": {"type": "point", "shape": "circle", "filled": true, "color": "#000000", "size": 22, "opacity": 1},
       "encoding": {"x": {"field": "year", "type": "ordinal", "title": "Year", "scale": {"paddingInner": 0.2, "paddingOuter": 0.49}}, "y": {"field": "obs", "type": "quantitative", "title": "Growth rate (ppm/yr)", "scale": {"domain": [-0.77, 3.48], "nice": false, "zero": false}}}}
    ]
  },
  {
    "width": 252, "height": 177,
    "title": {"text": "C3\u00a0\u00a0\u00a0R²=0.56\u00a0\u00a0\u00a0LOO R²=-0.06", "color": "#F3DDA2"},
    "transform": [{"filter": "datum.p === '3R'"}],
    "layer": [
      {"transform": [{"fold": ["E", "X"], "as": ["s", "v"]}],
       "mark": {"type": "bar", "stroke": "#8a8a8a", "strokeWidth": 0.7, "strokeOpacity": 0.8, "opacity": 1},
       "encoding": {
         "x": {"field": "year", "type": "ordinal", "title": "Year", "scale": {"paddingInner": 0.2, "paddingOuter": 0.49}},
         "y": {"field": "v", "type": "quantitative", "stack": "zero", "title": "Growth rate (ppm/yr)", "scale": {"domain": [-0.58, 3.47], "nice": false, "zero": false}, "axis": {"values": [-0.5, 0, 0.5, 1, 1.5, 2, 2.5, 3], "tickCount": 30, "labelOverlap": false, "labelExpr": "replace(format(datum.value, '.1f'), '-', '−')"}},
         "fill": {"field": "s", "type": "nominal", "scale": {"domain": ["obs", "pred", "E", "X"], "range": ["#000000", "#555555", "#F4A86F", "#5FBC90"]}, "legend": null},
         "order": {"field": "s", "type": "ordinal", "sort": "ascending"}
       }},
      {"mark": {"type": "rule", "color": "#666666", "strokeWidth": 0.8}, "encoding": {"y": {"datum": 0}}},
      {"mark": {"type": "line", "color": "#555555", "strokeWidth": 1.1, "strokeDash": [4, 2.5]},
       "encoding": {"x": {"field": "year", "type": "ordinal", "title": "Year", "scale": {"paddingInner": 0.2, "paddingOuter": 0.49}}, "y": {"field": "pred", "type": "quantitative", "title": "Growth rate (ppm/yr)", "scale": {"domain": [-0.58, 3.47], "nice": false, "zero": false}}}},
      {"mark": {"type": "point", "shape": "square", "filled": true, "color": "#555555", "size": 14, "opacity": 1},
       "encoding": {"x": {"field": "year", "type": "ordinal", "title": "Year", "scale": {"paddingInner": 0.2, "paddingOuter": 0.49}}, "y": {"field": "pred", "type": "quantitative", "title": "Growth rate (ppm/yr)", "scale": {"domain": [-0.58, 3.47], "nice": false, "zero": false}}}},
      {"mark": {"type": "line", "color": "#000000", "strokeWidth": 1.6},
       "encoding": {"x": {"field": "year", "type": "ordinal", "title": "Year", "scale": {"paddingInner": 0.2, "paddingOuter": 0.49}}, "y": {"field": "obs", "type": "quantitative", "title": "Growth rate (ppm/yr)", "scale": {"domain": [-0.58, 3.47], "nice": false, "zero": false}}}},
      {"mark": {"type": "point", "shape": "circle", "filled": true, "color": "#000000", "size": 22, "opacity": 1},
       "encoding": {"x": {"field": "year", "type": "ordinal", "title": "Year", "scale": {"paddingInner": 0.2, "paddingOuter": 0.49}}, "y": {"field": "obs", "type": "quantitative", "title": "Growth rate (ppm/yr)", "scale": {"domain": [-0.58, 3.47], "nice": false, "zero": false}}}}
    ]
  },
  {
    "width": 250, "height": 179,
    "title": {"text": "C4\u00a0\u00a0\u00a0R²=0.79\u00a0\u00a0\u00a0LOO R²=0.50", "color": "#E8845B"},
    "transform": [{"filter": "datum.p === '4L'"}],
    "layer": [
      {"transform": [{"fold": ["E", "X"], "as": ["s", "v"]}],
       "mark": {"type": "bar", "stroke": "#8a8a8a", "strokeWidth": 0.7, "strokeOpacity": 0.8, "opacity": 1},
       "encoding": {
         "x": {"field": "year", "type": "ordinal", "title": "Year", "scale": {"paddingInner": 0.2, "paddingOuter": 0.49}},
         "y": {"field": "v", "type": "quantitative", "stack": "zero", "title": "Growth rate (ppm/yr)", "scale": {"domain": [-0.80, 3.57], "nice": false, "zero": false}, "axis": {"values": [-0.5, 0, 0.5, 1, 1.5, 2, 2.5, 3, 3.5], "tickCount": 30, "labelOverlap": false, "labelExpr": "replace(format(datum.value, '.1f'), '-', '−')"}},
         "fill": {"field": "s", "type": "nominal", "scale": {"domain": ["obs", "pred", "E", "X"], "range": ["#000000", "#555555", "#F4A86F", "#4F97EC"]}, "legend": null},
         "order": {"field": "s", "type": "ordinal", "sort": "ascending"}
       }},
      {"mark": {"type": "rule", "color": "#666666", "strokeWidth": 0.8}, "encoding": {"y": {"datum": 0}}},
      {"mark": {"type": "line", "color": "#555555", "strokeWidth": 1.1, "strokeDash": [4, 2.5]},
       "encoding": {"x": {"field": "year", "type": "ordinal", "title": "Year", "scale": {"paddingInner": 0.2, "paddingOuter": 0.49}}, "y": {"field": "pred", "type": "quantitative", "title": "Growth rate (ppm/yr)", "scale": {"domain": [-0.80, 3.57], "nice": false, "zero": false}}}},
      {"mark": {"type": "point", "shape": "square", "filled": true, "color": "#555555", "size": 14, "opacity": 1},
       "encoding": {"x": {"field": "year", "type": "ordinal", "title": "Year", "scale": {"paddingInner": 0.2, "paddingOuter": 0.49}}, "y": {"field": "pred", "type": "quantitative", "title": "Growth rate (ppm/yr)", "scale": {"domain": [-0.80, 3.57], "nice": false, "zero": false}}}},
      {"mark": {"type": "line", "color": "#000000", "strokeWidth": 1.6},
       "encoding": {"x": {"field": "year", "type": "ordinal", "title": "Year", "scale": {"paddingInner": 0.2, "paddingOuter": 0.49}}, "y": {"field": "obs", "type": "quantitative", "title": "Growth rate (ppm/yr)", "scale": {"domain": [-0.80, 3.57], "nice": false, "zero": false}}}},
      {"mark": {"type": "point", "shape": "circle", "filled": true, "color": "#000000", "size": 22, "opacity": 1},
       "encoding": {"x": {"field": "year", "type": "ordinal", "title": "Year", "scale": {"paddingInner": 0.2, "paddingOuter": 0.49}}, "y": {"field": "obs", "type": "quantitative", "title": "Growth rate (ppm/yr)", "scale": {"domain": [-0.80, 3.57], "nice": false, "zero": false}}}}
    ]
  },
  {
    "width": 252, "height": 179,
    "title": {"text": "C4\u00a0\u00a0\u00a0R²=0.19\u00a0\u00a0\u00a0LOO R²=-2.45", "color": "#E8845B"},
    "transform": [{"filter": "datum.p === '4R'"}],
    "layer": [
      {"transform": [{"fold": ["E", "X"], "as": ["s", "v"]}],
       "mark": {"type": "bar", "stroke": "#8a8a8a", "strokeWidth": 0.7, "strokeOpacity": 0.8, "opacity": 1},
       "encoding": {
         "x": {"field": "year", "type": "ordinal", "title": "Year", "scale": {"paddingInner": 0.2, "paddingOuter": 0.49}},
         "y": {"field": "v", "type": "quantitative", "stack": "zero", "title": "Growth rate (ppm/yr)", "scale": {"domain": [-0.44, 3.55], "nice": false, "zero": false}, "axis": {"values": [0, 0.5, 1, 1.5, 2, 2.5, 3, 3.5], "tickCount": 30, "labelOverlap": false, "labelExpr": "replace(format(datum.value, '.1f'), '-', '−')"}},
         "fill": {"field": "s", "type": "nominal", "scale": {"domain": ["obs", "pred", "E", "X"], "range": ["#000000", "#555555", "#F4A86F", "#5FBC90"]}, "legend": null},
         "order": {"field": "s", "type": "ordinal", "sort": "ascending"}
       }},
      {"mark": {"type": "rule", "color": "#666666", "strokeWidth": 0.8}, "encoding": {"y": {"datum": 0}}},
      {"mark": {"type": "line", "color": "#555555", "strokeWidth": 1.1, "strokeDash": [4, 2.5]},
       "encoding": {"x": {"field": "year", "type": "ordinal", "title": "Year", "scale": {"paddingInner": 0.2, "paddingOuter": 0.49}}, "y": {"field": "pred", "type": "quantitative", "title": "Growth rate (ppm/yr)", "scale": {"domain": [-0.44, 3.55], "nice": false, "zero": false}}}},
      {"mark": {"type": "point", "shape": "square", "filled": true, "color": "#555555", "size": 14, "opacity": 1},
       "encoding": {"x": {"field": "year", "type": "ordinal", "title": "Year", "scale": {"paddingInner": 0.2, "paddingOuter": 0.49}}, "y": {"field": "pred", "type": "quantitative", "title": "Growth rate (ppm/yr)", "scale": {"domain": [-0.44, 3.55], "nice": false, "zero": false}}}},
      {"mark": {"type": "line", "color": "#000000", "strokeWidth": 1.6},
       "encoding": {"x": {"field": "year", "type": "ordinal", "title": "Year", "scale": {"paddingInner": 0.2, "paddingOuter": 0.49}}, "y": {"field": "obs", "type": "quantitative", "title": "Growth rate (ppm/yr)", "scale": {"domain": [-0.44, 3.55], "nice": false, "zero": false}}}},
      {"mark": {"type": "point", "shape": "circle", "filled": true, "color": "#000000", "size": 22, "opacity": 1},
       "encoding": {"x": {"field": "year", "type": "ordinal", "title": "Year", "scale": {"paddingInner": 0.2, "paddingOuter": 0.49}}, "y": {"field": "obs", "type": "quantitative", "title": "Growth rate (ppm/yr)", "scale": {"domain": [-0.44, 3.55], "nice": false, "zero": false}}}}
    ]
  },
  {
    "width": 250, "height": 184,
    "title": {"text": "C5\u00a0\u00a0\u00a0R²=0.89\u00a0\u00a0\u00a0LOO R²=0.81", "color": "#2E7D32"},
    "transform": [{"filter": "datum.p === '5L'"}],
    "layer": [
      {"transform": [{"fold": ["E", "X"], "as": ["s", "v"]}],
       "mark": {"type": "bar", "stroke": "#8a8a8a", "strokeWidth": 0.7, "strokeOpacity": 0.8, "opacity": 1},
       "encoding": {
         "x": {"field": "year", "type": "ordinal", "title": "Year", "scale": {"paddingInner": 0.2, "paddingOuter": 0.49}},
         "y": {"field": "v", "type": "quantitative", "stack": "zero", "title": "Growth rate (ppm/yr)", "scale": {"domain": [-0.89, 3.68], "nice": false, "zero": false}, "axis": {"values": [0, 1, 2, 3], "tickCount": 30, "labelOverlap": false, "labelExpr": "replace(format(datum.value, 'd'), '-', '−')"}},
         "fill": {"field": "s", "type": "nominal", "scale": {"domain": ["obs", "pred", "E", "X"], "range": ["#000000", "#555555", "#F4A86F", "#4F97EC"]}, "legend": null},
         "order": {"field": "s", "type": "ordinal", "sort": "ascending"}
       }},
      {"mark": {"type": "rule", "color": "#666666", "strokeWidth": 0.8}, "encoding": {"y": {"datum": 0}}},
      {"mark": {"type": "line", "color": "#555555", "strokeWidth": 1.1, "strokeDash": [4, 2.5]},
       "encoding": {"x": {"field": "year", "type": "ordinal", "title": "Year", "scale": {"paddingInner": 0.2, "paddingOuter": 0.49}}, "y": {"field": "pred", "type": "quantitative", "title": "Growth rate (ppm/yr)", "scale": {"domain": [-0.89, 3.68], "nice": false, "zero": false}}}},
      {"mark": {"type": "point", "shape": "square", "filled": true, "color": "#555555", "size": 14, "opacity": 1},
       "encoding": {"x": {"field": "year", "type": "ordinal", "title": "Year", "scale": {"paddingInner": 0.2, "paddingOuter": 0.49}}, "y": {"field": "pred", "type": "quantitative", "title": "Growth rate (ppm/yr)", "scale": {"domain": [-0.89, 3.68], "nice": false, "zero": false}}}},
      {"mark": {"type": "line", "color": "#000000", "strokeWidth": 1.6},
       "encoding": {"x": {"field": "year", "type": "ordinal", "title": "Year", "scale": {"paddingInner": 0.2, "paddingOuter": 0.49}}, "y": {"field": "obs", "type": "quantitative", "title": "Growth rate (ppm/yr)", "scale": {"domain": [-0.89, 3.68], "nice": false, "zero": false}}}},
      {"mark": {"type": "point", "shape": "circle", "filled": true, "color": "#000000", "size": 22, "opacity": 1},
       "encoding": {"x": {"field": "year", "type": "ordinal", "title": "Year", "scale": {"paddingInner": 0.2, "paddingOuter": 0.49}}, "y": {"field": "obs", "type": "quantitative", "title": "Growth rate (ppm/yr)", "scale": {"domain": [-0.89, 3.68], "nice": false, "zero": false}}}}
    ]
  },
  {
    "width": 252, "height": 184,
    "title": {"text": "C5\u00a0\u00a0\u00a0R²=0.76\u00a0\u00a0\u00a0LOO R²=0.42", "color": "#2E7D32"},
    "transform": [{"filter": "datum.p === '5R'"}],
    "layer": [
      {"transform": [{"fold": ["E", "X"], "as": ["s", "v"]}],
       "mark": {"type": "bar", "stroke": "#8a8a8a", "strokeWidth": 0.7, "strokeOpacity": 0.8, "opacity": 1},
       "encoding": {
         "x": {"field": "year", "type": "ordinal", "title": "Year", "scale": {"paddingInner": 0.2, "paddingOuter": 0.49}},
         "y": {"field": "v", "type": "quantitative", "stack": "zero", "title": "Growth rate (ppm/yr)", "scale": {"domain": [-1.03, 3.66], "nice": false, "zero": false}, "axis": {"values": [-1, 0, 1, 2, 3], "tickCount": 30, "labelOverlap": false, "labelExpr": "replace(format(datum.value, 'd'), '-', '−')"}},
         "fill": {"field": "s", "type": "nominal", "scale": {"domain": ["obs", "pred", "E", "X"], "range": ["#000000", "#555555", "#F4A86F", "#5FBC90"]}, "legend": null},
         "order": {"field": "s", "type": "ordinal", "sort": "ascending"}
       }},
      {"mark": {"type": "rule", "color": "#666666", "strokeWidth": 0.8}, "encoding": {"y": {"datum": 0}}},
      {"mark": {"type": "line", "color": "#555555", "strokeWidth": 1.1, "strokeDash": [4, 2.5]},
       "encoding": {"x": {"field": "year", "type": "ordinal", "title": "Year", "scale": {"paddingInner": 0.2, "paddingOuter": 0.49}}, "y": {"field": "pred", "type": "quantitative", "title": "Growth rate (ppm/yr)", "scale": {"domain": [-1.03, 3.66], "nice": false, "zero": false}}}},
      {"mark": {"type": "point", "shape": "square", "filled": true, "color": "#555555", "size": 14, "opacity": 1},
       "encoding": {"x": {"field": "year", "type": "ordinal", "title": "Year", "scale": {"paddingInner": 0.2, "paddingOuter": 0.49}}, "y": {"field": "pred", "type": "quantitative", "title": "Growth rate (ppm/yr)", "scale": {"domain": [-1.03, 3.66], "nice": false, "zero": false}}}},
      {"mark": {"type": "line", "color": "#000000", "strokeWidth": 1.6},
       "encoding": {"x": {"field": "year", "type": "ordinal", "title": "Year", "scale": {"paddingInner": 0.2, "paddingOuter": 0.49}}, "y": {"field": "obs", "type": "quantitative", "title": "Growth rate (ppm/yr)", "scale": {"domain": [-1.03, 3.66], "nice": false, "zero": false}}}},
      {"mark": {"type": "point", "shape": "circle", "filled": true, "color": "#000000", "size": 22, "opacity": 1},
       "encoding": {"x": {"field": "year", "type": "ordinal", "title": "Year", "scale": {"paddingInner": 0.2, "paddingOuter": 0.49}}, "y": {"field": "obs", "type": "quantitative", "title": "Growth rate (ppm/yr)", "scale": {"domain": [-1.03, 3.66], "nice": false, "zero": false}}}}
    ]
  }
  ]
 }
 ]
}
],
"spacing": 51,
"center": true
}
